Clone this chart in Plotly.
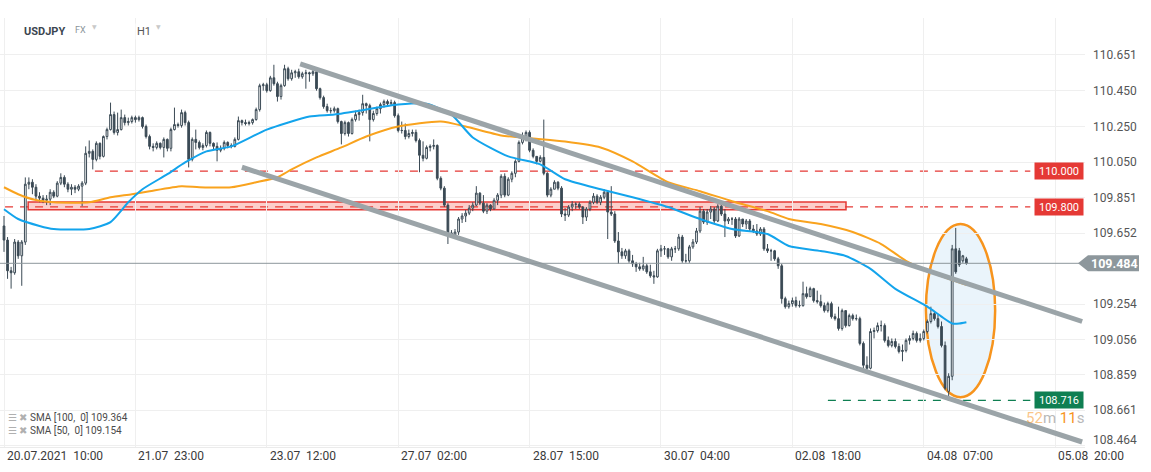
import plotly.graph_objects as go

# ---------------- data (USDJPY, H1) ----------------
first_open = 109.693
closes = [
109.614,109.442,109.431,109.603,109.526,109.603,109.927,109.938,109.910,109.860,
109.849,109.837,109.843,109.882,109.860,109.933,109.965,109.927,109.899,109.910,
109.899,109.916,109.933,110.100,110.111,110.066,110.156,110.083,110.194,110.233,
110.317,110.217,110.233,110.300,110.272,110.278,110.300,110.289,110.300,110.250,
110.194,110.139,110.133,110.156,110.133,110.178,110.128,110.233,110.261,110.256,
110.328,110.272,110.066,110.178,110.161,110.133,110.144,110.217,110.156,110.139,
110.117,110.128,110.161,110.144,110.139,110.178,110.283,110.272,110.267,110.272,
110.289,110.345,110.479,110.484,110.451,110.523,110.490,110.418,110.479,110.574,
110.518,110.551,110.557,110.529,110.546,110.551,110.546,110.557,110.462,110.412,
110.362,110.339,110.339,110.350,110.278,110.211,110.272,110.211,110.289,110.317,
110.328,110.378,110.367,110.289,110.323,110.350,110.373,110.390,110.378,
110.384,110.311,110.228,110.228,110.194,110.211,110.217,110.172,110.089,110.072,
110.133,110.139,110.144,109.960,109.905,109.810,109.654,109.643,109.659,109.732,
109.749,109.765,109.793,109.810,109.877,109.821,109.776,109.810,109.788,109.837,
109.866,109.971,109.866,109.955,109.988,110.055,110.161,110.194,110.217,110.117,
110.083,110.055,110.077,109.988,109.866,109.899,109.938,109.905,109.760,109.754,
109.799,109.815,109.815,109.799,109.743,
109.788,109.826,109.860,109.826,109.854,109.882,109.771,109.760,109.609,109.548,
109.526,109.554,109.498,109.481,109.464,109.453,109.470,109.436,109.414,109.408,
109.554,109.565,109.565,109.520,109.565,109.565,109.631,109.498,109.498,109.576,
109.603,109.665,109.776,109.715,109.771,109.788,109.721,109.804,109.760,109.721,
109.732,109.732,109.637,109.732,109.704,109.721,109.676,109.665,109.648,109.676,
109.565,109.554,109.554,109.509,109.470,109.286,
109.241,109.258,109.275,109.247,109.247,109.314,109.297,109.342,109.275,109.269,
109.247,109.219,109.258,109.185,109.174,109.119,109.219,109.135,109.191,109.174,
109.174,109.035,108.913,108.896,109.102,109.107,109.135,109.135,109.052,109.024,
109.046,109.018,108.990,108.996,109.052,109.063,109.091,109.052,109.063,109.102,
109.158,109.202,109.174,109.130,109.024,108.784,
108.851,109.565,109.436,109.476,109.526,109.484]

highs = [
109.749,109.631,109.464,109.620,109.614,109.614,109.965,109.965,109.955,109.927,
109.882,109.866,109.866,109.899,109.893,109.944,109.988,109.977,109.938,109.927,
109.922,109.927,109.944,110.139,110.172,110.122,110.167,110.161,110.200,110.244,
110.384,110.334,110.328,110.345,110.317,110.300,110.311,110.311,110.311,110.306,
110.261,110.205,110.156,110.167,110.161,110.189,110.183,110.244,110.356,110.272,
110.345,110.339,110.283,110.189,110.233,110.172,110.156,110.228,110.222,110.161,
110.161,110.144,110.172,110.167,110.156,110.189,110.306,110.289,110.289,110.283,
110.295,110.356,110.490,110.495,110.495,110.534,110.596,110.501,110.490,110.596,
110.585,110.568,110.568,110.574,110.557,110.568,110.557,110.568,110.568,110.468,
110.423,110.378,110.356,110.362,110.356,110.283,110.283,110.278,110.300,110.339,
110.345,110.428,110.384,110.378,110.339,110.362,110.384,110.401,110.401,
110.401,110.395,110.323,110.278,110.267,110.233,110.233,110.233,110.183,110.167,
110.144,110.150,110.178,110.150,109.971,109.916,109.821,109.670,109.676,109.743,
109.765,109.782,109.810,109.826,109.916,109.882,109.866,109.821,109.815,109.849,
109.877,109.983,109.988,109.966,109.999,110.066,110.172,110.217,110.228,110.228,
110.128,110.083,110.089,110.289,109.994,109.910,109.949,109.944,109.916,109.793,
109.810,109.832,109.826,109.826,109.804,
109.799,109.837,109.877,109.871,109.866,109.899,109.893,109.916,109.776,109.659,
109.570,109.565,109.565,109.531,109.492,109.487,109.520,109.481,109.476,109.442,
109.565,109.587,109.581,109.570,109.576,109.581,109.648,109.643,109.537,109.587,
109.620,109.682,109.799,109.788,109.788,109.804,109.799,109.815,109.815,109.788,
109.743,109.743,109.743,109.743,109.721,109.732,109.732,109.699,109.704,109.687,
109.687,109.592,109.565,109.559,109.520,109.481,
109.297,109.275,109.292,109.297,109.275,109.381,109.353,109.353,109.347,109.331,
109.308,109.264,109.269,109.269,109.202,109.241,109.230,109.219,109.202,109.202,
109.197,109.185,109.046,108.963,109.119,109.124,109.152,109.163,109.147,109.074,
109.063,109.063,109.035,109.029,109.063,109.080,109.107,109.102,109.091,109.113,
109.169,109.241,109.213,109.197,109.158,109.046,
108.868,109.587,109.682,109.570,109.531,109.520]

lows = [
109.548,109.397,109.342,109.420,109.509,109.358,109.587,109.899,109.871,109.843,
109.826,109.821,109.810,109.810,109.849,109.854,109.922,109.910,109.882,109.866,
109.877,109.888,109.804,109.922,110.077,110.010,110.055,110.066,110.077,110.178,
110.228,110.205,110.200,110.228,110.256,110.256,110.267,110.272,110.278,110.239,
110.183,110.122,110.111,110.122,110.122,110.077,110.111,110.111,110.228,110.244,
110.244,110.256,110.021,110.055,110.122,110.122,110.117,110.133,110.139,110.122,
110.055,110.106,110.117,110.128,110.128,110.133,110.172,110.256,110.256,110.256,
110.261,110.283,110.334,110.451,110.440,110.445,110.479,110.390,110.401,110.473,
110.507,110.507,110.523,110.518,110.518,110.462,110.501,110.534,110.451,110.401,
110.350,110.328,110.323,110.328,110.267,110.150,110.200,110.194,110.205,110.278,
110.283,110.311,110.323,110.167,110.278,110.311,110.323,110.356,110.367,
110.367,110.300,110.217,110.211,110.178,110.183,110.194,110.161,109.994,110.055,
110.066,110.111,110.122,109.949,109.893,109.799,109.592,109.626,109.631,109.643,
109.710,109.715,109.754,109.776,109.804,109.810,109.765,109.760,109.776,109.799,
109.810,109.849,109.854,109.860,109.938,109.966,110.049,110.150,110.167,110.106,
110.072,110.038,110.049,109.977,109.854,109.854,109.910,109.893,109.743,109.721,
109.743,109.776,109.788,109.788,109.704,
109.721,109.776,109.815,109.815,109.810,109.843,109.620,109.749,109.598,109.481,
109.509,109.509,109.487,109.464,109.436,109.442,109.442,109.425,109.403,109.369,
109.403,109.520,109.531,109.509,109.498,109.542,109.554,109.487,109.487,109.487,
109.565,109.592,109.654,109.704,109.699,109.732,109.710,109.715,109.749,109.631,
109.704,109.699,109.626,109.631,109.687,109.676,109.665,109.654,109.637,109.637,
109.554,109.542,109.498,109.498,109.453,109.258,
109.230,109.230,109.241,109.236,109.236,109.241,109.286,109.308,109.264,109.258,
109.236,109.208,109.208,109.174,109.163,109.107,109.107,109.124,109.130,109.163,
109.163,109.024,108.884,108.884,108.890,109.063,109.096,109.102,109.040,109.013,
109.013,109.007,108.979,108.935,108.985,109.029,109.052,109.040,109.040,109.052,
109.091,109.147,109.163,109.119,109.013,108.773,
108.716,108.829,109.425,109.464,109.487,109.476]

# opens that gap from the previous close
open_gaps = {266: 108.767, 269: 109.554, 270: 109.498, 271: 109.509}

# moving averages (bar index, value)
sma50_x = [0, 4, 10, 14, 24, 30, 35, 39, 46, 51, 57, 64, 74, 86, 93, 102, 107, 111, 119, 126,
           132, 142, 151, 158, 168, 177, 187, 196, 205, 215, 221, 230, 237, 244, 251, 260, 264, 267, 269, 271]
sma50_y = [109.787, 109.732, 109.693, 109.676, 109.676, 109.715, 109.826, 109.899, 109.983, 110.049,
           110.111, 110.139, 110.233, 110.306, 110.317, 110.345, 110.362, 110.373, 110.378, 110.317,
           110.189, 110.083, 110.038, 109.955, 109.899, 109.854, 109.799, 109.732, 109.676, 109.648,
           109.581, 109.553, 109.525, 109.453, 109.341, 109.241, 109.185, 109.147, 109.147, 109.154]
sma100_x = [0, 4, 9, 14, 24, 30, 36, 41, 50, 55, 64, 71, 77, 81, 88, 95, 102, 111, 123, 130,
            140, 149, 158, 168, 177, 187, 196, 205, 215, 221, 230, 239, 247, 254, 263, 271]
sma100_y = [109.910, 109.871, 109.838, 109.826, 109.826, 109.854, 109.871, 109.888, 109.916, 109.910,
            109.910, 109.938, 109.966, 110.010, 110.077, 110.133, 110.194, 110.250, 110.278, 110.250,
            110.200, 110.183, 110.166, 110.133, 110.055, 109.938, 109.888, 109.832, 109.776, 109.732,
            109.704, 109.659, 109.592, 109.498, 109.420, 109.364]

# channel (trend lines)
upper_x = [83.4, 303.6]; upper_y = [110.601, 109.158]
lower_x = [67.0, 303.6]; lower_y = [110.022, 108.483]

# levels
level_110 = 110.000
level_1098 = 109.800
level_low = 108.716
last_price = 109.484
zone_lo, zone_hi = 109.784, 109.827
ellipse_x = [259.6, 279.1]; ellipse_y = [108.734, 109.704]

x_tick_idx = [0, 37, 74, 111, 148, 185, 222, 259, 296]
x_tick_txt = ["20.07.2021  10:00", "21.07  23:00", "23.07  12:00", "27.07  02:00", "28.07  15:00",
              "30.07  04:00", "02.08  18:00", "04.08  07:00", "05.08  20:00"]
y_ticks = [110.651, 110.450, 110.250, 110.050, 109.851, 109.652, 109.254, 109.056, 108.859, 108.661, 108.464]
y_range = [108.455, 110.858]

# ---------------- build ----------------
n = len(closes)
xs = list(range(n))
opens = [first_open] + closes[:-1]
for k, v in open_gaps.items():
    opens[k] = v
highs = [max(h, o, c) for h, o, c in zip(highs, opens, closes)]
lows = [min(l, o, c) for l, o, c in zip(lows, opens, closes)]

FONT = "Roboto, 'Open Sans', sans-serif"
CANDLE = "#3b4a55"
RED = "#e53935"
GREEN = "#0f7f52"
GRAYP = "#8d979c"

W, H = 1151, 472
ML, MR, MT, MB = 0, 66, 18, 25
PW, PH = W - ML - MR, H - MT - MB


def px_x(p):
    return (p - ML) / PW


def px_y(p):
    return (H - MB - p) / PH


fig = go.Figure()
fig.add_trace(go.Candlestick(
    x=xs, open=opens, high=highs, low=lows, close=closes,
    increasing=dict(line=dict(color=CANDLE, width=1), fillcolor="#ffffff"),
    decreasing=dict(line=dict(color=CANDLE, width=1), fillcolor=CANDLE),
    whiskerwidth=0, hoverinfo="skip", showlegend=False))
fig.add_trace(go.Scatter(x=sma100_x, y=sma100_y, mode="lines",
                         line=dict(color="#f9a31e", width=2, shape="spline", smoothing=0.6),
                         hoverinfo="skip", showlegend=False))
fig.add_trace(go.Scatter(x=sma50_x, y=sma50_y, mode="lines",
                         line=dict(color="#13a4ec", width=2, shape="spline", smoothing=0.6),
                         hoverinfo="skip", showlegend=False))
for cx, cy in ((upper_x, upper_y), (lower_x, lower_y)):
    fig.add_trace(go.Scatter(x=cx, y=cy, mode="lines", line=dict(color="#9ba4a8", width=5),
                             hoverinfo="skip", showlegend=False))

shapes = []
shapes.append(dict(type="circle", xref="x", yref="y", x0=ellipse_x[0], x1=ellipse_x[1],
                   y0=ellipse_y[0], y1=ellipse_y[1],
                   line=dict(color="#f7941d", width=2.5), fillcolor="rgba(214,234,248,0.5)", layer="below"))
shapes.append(dict(type="line", xref="x", yref="y", x0=25.6, x1=289, y0=level_110, y1=level_110,
                   line=dict(color=RED, width=1.2, dash="8px,7px"), layer="below"))
shapes.append(dict(type="line", xref="x", yref="y", x0=0.3, x1=289, y0=level_1098, y1=level_1098,
                   line=dict(color=RED, width=1.2, dash="8px,7px"), layer="below"))
shapes.append(dict(type="line", xref="x", yref="y", x0=232, x1=289, y0=level_low, y1=level_low,
                   line=dict(color=GREEN, width=1.2, dash="8px,7px"), layer="below"))
shapes.append(dict(type="rect", xref="x", yref="y", x0=6.8, x1=237.1, y0=zone_lo, y1=zone_hi,
                   line=dict(color=RED, width=1.5), fillcolor="rgba(244,67,54,0.26)", layer="below"))
shapes.append(dict(type="line", xref="paper", yref="y", x0=0, x1=0.996, y0=last_price, y1=last_price,
                   line=dict(color=GRAYP, width=1), layer="above"))
# last price tag (arrow box), paper coordinates so it is not clipped
yc = (last_price - y_range[0]) / (y_range[1] - y_range[0])
dy = 8 / PH
shapes.append(dict(type="path", xref="paper", yref="paper",
                   path=(f"M {px_x(1078):.5f},{yc:.5f} L {px_x(1088):.5f},{yc + dy:.5f} "
                         f"L {px_x(1139):.5f},{yc + dy:.5f} L {px_x(1139):.5f},{yc - dy:.5f} "
                         f"L {px_x(1088):.5f},{yc - dy:.5f} Z"),
                   fillcolor=GRAYP, line=dict(width=0), layer="above"))

ann = []
# price-axis labels
for v in y_ticks:
    ann.append(dict(x=px_x(1091), y=v, xref="paper", yref="y", text=f"{v:.3f}", showarrow=False,
                    xanchor="left", yanchor="middle", yshift=5 if v == y_ticks[-1] else 0,
                    font=dict(family=FONT, size=12, color="#555555")))
# time-axis labels
for xv, t in zip(x_tick_idx, x_tick_txt):
    ann.append(dict(x=xv, y=0, xref="x", yref="paper", text=t, showarrow=False, xanchor="left",
                    yanchor="middle", xshift=1, yshift=-9,
                    font=dict(family=FONT, size=12, color="#3a3a3a")))
for val, col in ((level_110, RED), (level_1098, RED), (level_low, GREEN)):
    ann.append(dict(x=297.1, y=val, xref="x", yref="y", text=f"{val:.3f}", showarrow=False,
                    xanchor="center", bgcolor=col, width=44, height=12, borderpad=2,
                    font=dict(family=FONT, size=11, color="#ffffff")))
ann.append(dict(x=px_x(1114), y=yc, xref="paper", yref="paper", text=f"<b>{last_price:.3f}</b>",
                showarrow=False, xanchor="center", yanchor="middle",
                font=dict(family=FONT, size=12.5, color="#ffffff")))
hy = px_y(23)
ann += [
    dict(x=px_x(22), y=hy, xref="paper", yref="paper", text="<b>USDJPY</b>", showarrow=False, xanchor="left",
         font=dict(family=FONT, size=11, color="#3c4650")),
    dict(x=px_x(73), y=hy, xref="paper", yref="paper", text="FX", showarrow=False, xanchor="left",
         font=dict(family=FONT, size=9, color="#8a949a")),
    dict(x=px_x(90), y=px_y(21), xref="paper", yref="paper", text="▼", showarrow=False, xanchor="left",
         font=dict(family="DejaVu Sans", size=6, color="#c9c9c9")),
    dict(x=px_x(135), y=hy, xref="paper", yref="paper", text="H1", showarrow=False, xanchor="left",
         bgcolor="#ffffff", font=dict(family=FONT, size=11, color="#555555")),
    dict(x=px_x(154), y=px_y(21), xref="paper", yref="paper", text="▼", showarrow=False, xanchor="left",
         font=dict(family="DejaVu Sans", size=6, color="#c9c9c9")),
]
ann.append(dict(x=px_x(6), y=px_y(425), xref="paper", yref="paper", xanchor="left", showarrow=False,
                text='<span style="color:#b0b0b0">☰ ✖</span> SMA [100,  0] 109.364',
                font=dict(family=FONT, size=10, color="#4a4a4a")))
ann.append(dict(x=px_x(6), y=px_y(438), xref="paper", yref="paper", xanchor="left", showarrow=False,
                text='<span style="color:#b0b0b0">☰ ✖</span> SMA [50,  0] 109.154',
                font=dict(family=FONT, size=10, color="#4a4a4a")))
ann.append(dict(x=px_x(1024), y=px_y(429), xref="paper", yref="paper", showarrow=False, xanchor="left",
                text='<span style="color:rgba(247,148,29,0.55)">52</span><span style="color:#b8b8b8">m</span> '
                     '<span style="color:#f7941d">11</span><span style="color:#b8b8b8">s</span>',
                font=dict(family=FONT, size=15)))

fig.update_layout(
    width=W, height=H, margin=dict(l=ML, r=MR, t=MT, b=MB),
    paper_bgcolor="#ffffff", plot_bgcolor="#ffffff",
    hovermode=False, showlegend=False, shapes=shapes, annotations=ann,
    xaxis=dict(range=[-1.126, 304.4], tickvals=x_tick_idx, showticklabels=False, ticks="",
               showgrid=True, gridcolor="#efefef", gridwidth=1, zeroline=False,
               showline=True, linecolor="#ebebeb", rangeslider=dict(visible=False), fixedrange=True),
    yaxis=dict(side="right", range=y_range, tickvals=y_ticks, showticklabels=False,
               ticks="", showgrid=True, gridcolor="#efefef", zeroline=False,
               showline=False, fixedrange=True),
)

fig.write_html("out.html", config={"displayModeBar": False, "staticPlot": True},
               post_script="document.body.style.margin='0px';document.body.style.overflow='hidden';")
